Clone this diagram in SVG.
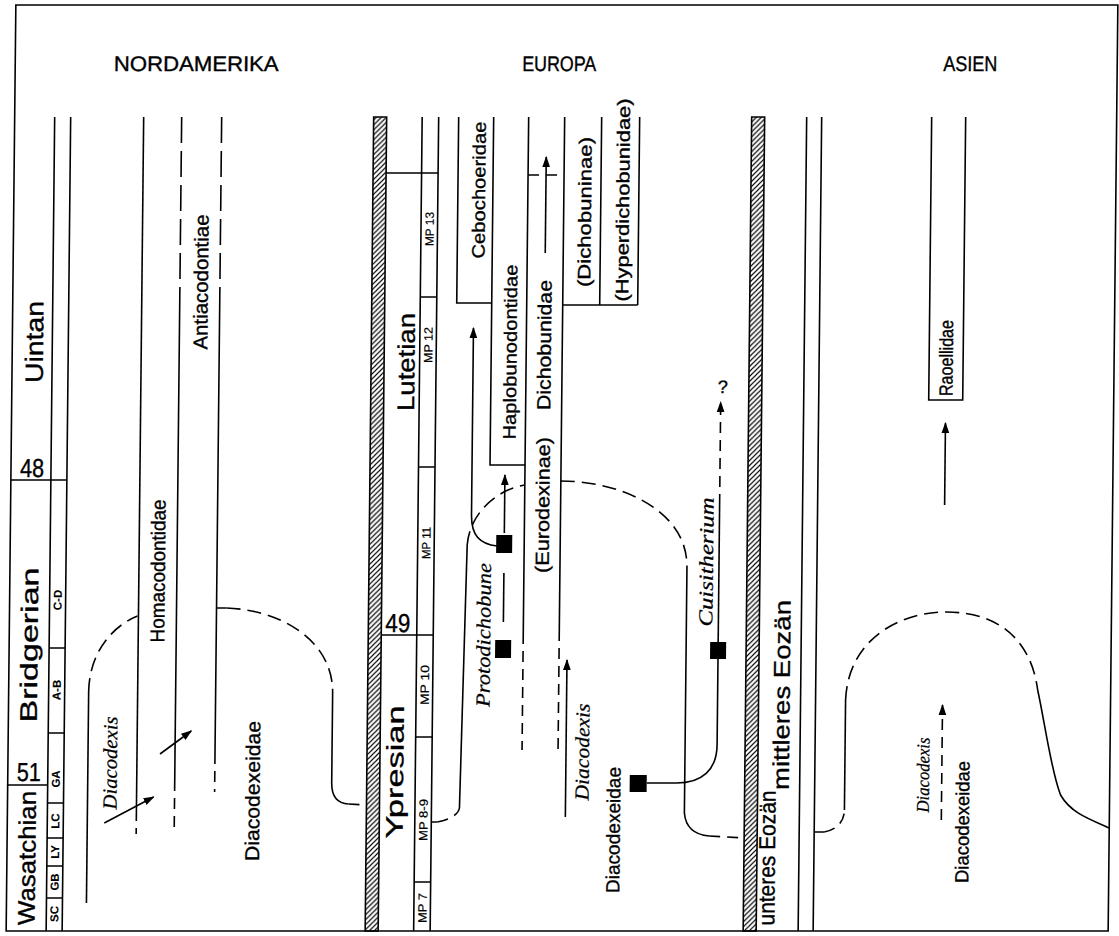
<svg xmlns="http://www.w3.org/2000/svg" width="1119" height="936" viewBox="0 0 1119 936">
<defs>
<pattern id="hatch" width="5" height="5" patternUnits="userSpaceOnUse"><path d="M-1,1 L1,-1 M0,5 L5,0 M4,6 L6,4" stroke="#000" stroke-width="1.2"/></pattern>
<marker id="arr" viewBox="0 0 10 10" refX="9" refY="5" markerWidth="11" markerHeight="11" markerUnits="userSpaceOnUse" orient="auto"><path d="M0,1.5 L10,5 L0,8.5 z" fill="#000"/></marker>
</defs>
<style>
.ln{fill:none;stroke:#000;stroke-width:1.6}
.d1{stroke-dasharray:14 7}
.d2{stroke-dasharray:26 8}
.d3{stroke-dasharray:11 7}
.sq{fill:#000}
.t{font-family:"Liberation Sans",Arial,sans-serif;fill:#000;stroke:#000;stroke-width:0.35}
.it{font-family:"Liberation Serif","Times New Roman",serif;font-style:italic;fill:#000;stroke:#000;stroke-width:0.25}
.bar{fill:url(#hatch);stroke:#000;stroke-width:1.6}
.ar{marker-end:url(#arr)}
</style>
<rect width="1119" height="936" fill="#fff"/>
<g transform="translate(4.9 0) skewX(-0.6)">
<rect id="frame" x="11" y="5" width="1102" height="926" class="ln"/>
<g id="titles" class="t" font-size="21" text-anchor="middle">
<text x="192" y="71" textLength="165" lengthAdjust="spacingAndGlyphs">NORDAMERIKA</text>
<text x="555" y="71" textLength="74" lengthAdjust="spacingAndGlyphs">EUROPA</text>
<text x="966" y="71" textLength="54" lengthAdjust="spacingAndGlyphs">ASIEN</text>
</g>

<g id="na-stages">
<path class="ln" d="M51,117 V931 M67,117 V931 M11,480 H67 M11,785 H51 M51,803 H67 M51,648 H67 M51,733 H67 M51,838 H67 M51,866 H67 M51,898 H67"/>
<text class="t" font-size="25" text-anchor="middle" transform="translate(33 342) rotate(-90)" dy="0.35em" textLength="82" lengthAdjust="spacingAndGlyphs">Uintan</text>
<text class="t" font-size="26" x="20" y="477" textLength="24" lengthAdjust="spacingAndGlyphs">48</text>
<text class="t" font-size="24" text-anchor="middle" transform="translate(31 645) rotate(-90)" dy="0.35em" textLength="155" lengthAdjust="spacingAndGlyphs">Bridgerian</text>
<text class="t" font-size="26" x="20" y="781" textLength="24" lengthAdjust="spacingAndGlyphs">51</text>
<text class="t" font-size="24" text-anchor="middle" transform="translate(31 858) rotate(-90)" dy="0.35em" textLength="134" lengthAdjust="spacingAndGlyphs">Wasatchian</text>
<g class="t" font-size="11.5" font-weight="bold" text-anchor="middle" style="stroke-width:0.1">
<text transform="translate(59 600) rotate(-90)" dy="0.35em">C-D</text>
<text transform="translate(59 690) rotate(-90)" dy="0.35em">A-B</text>
<text transform="translate(59 779) rotate(-90)" dy="0.35em">GA</text>
<text transform="translate(59 821) rotate(-90)" dy="0.35em">LC</text>
<text transform="translate(59 852) rotate(-90)" dy="0.35em">LY</text>
<text transform="translate(59 882) rotate(-90)" dy="0.35em">GB</text>
<text transform="translate(59 914) rotate(-90)" dy="0.35em">SC</text>
</g>
</g>

<g id="na-homacodontidae">
<path class="ln" d="M140,117 V810"/>
<path class="ln d3" d="M140,810 V834"/>
<text class="t" font-size="20" text-anchor="middle" transform="translate(159 571) rotate(-90)" dy="0.35em" textLength="143" lengthAdjust="spacingAndGlyphs">Homacodontidae</text>
</g>
<g id="na-antiacodontiae">
<path class="ln d2" d="M178,117 V300 M218,117 V300"/>
<path class="ln" d="M178,300 V780 M218,300 V753"/>
<path class="ln d3" d="M178,780 V832 M218,753 V792"/>
<text class="t" font-size="20" text-anchor="middle" transform="translate(199 282) rotate(-90)" dy="0.35em" textLength="135" lengthAdjust="spacingAndGlyphs">Antiacodontiae</text>
</g>
<g id="na-diacodexeidae">
<text class="t" font-size="20" text-anchor="middle" transform="translate(256 791) rotate(-90)" dy="0.35em" textLength="140" lengthAdjust="spacingAndGlyphs">Diacodexeidae</text>
<text class="it" font-size="20" text-anchor="middle" transform="translate(113 763) rotate(-90)" dy="0.35em" textLength="93" lengthAdjust="spacingAndGlyphs">Diacodexis</text>
</g>

<g id="eu-stages">
<rect class="bar" x="370" y="117" width="13" height="814"/>
<path class="ln" d="M418.5,117 V931 M435,117 V931 M383,173 H435 M418.5,297 H435 M418.5,467 H435 M383,635 H435 M418.5,737 H435 M418.5,882 H435"/>
<text class="t" font-size="24" text-anchor="middle" transform="translate(405 362) rotate(-90)" dy="0.35em" textLength="98" lengthAdjust="spacingAndGlyphs">Lutetian</text>
<text class="t" font-size="26" x="387" y="632" textLength="25" lengthAdjust="spacingAndGlyphs">49</text>
<text class="t" font-size="24" text-anchor="middle" transform="translate(398 772) rotate(-90)" dy="0.35em" textLength="133" lengthAdjust="spacingAndGlyphs">Ypresian</text>
<g class="t" font-size="12" text-anchor="middle" style="stroke-width:0.2">
<text transform="translate(427 229) rotate(-90)" dy="0.35em" textLength="34" lengthAdjust="spacingAndGlyphs">MP 13</text>
<text transform="translate(427 345) rotate(-90)" dy="0.35em" textLength="36" lengthAdjust="spacingAndGlyphs">MP 12</text>
<text transform="translate(427 543) rotate(-90)" dy="0.35em" textLength="32" lengthAdjust="spacingAndGlyphs">MP 11</text>
<text transform="translate(427 685) rotate(-90)" dy="0.35em" textLength="40" lengthAdjust="spacingAndGlyphs">MP 10</text>
<text transform="translate(427 820) rotate(-90)" dy="0.35em" textLength="42" lengthAdjust="spacingAndGlyphs">MP 8-9</text>
<text transform="translate(427 908) rotate(-90)" dy="0.35em" textLength="30" lengthAdjust="spacingAndGlyphs">MP 7</text>
</g>
</g>

<g id="eu-cebochoeridae">
<path class="ln" d="M455,117 V303 H490"/>
<text class="t" font-size="18" text-anchor="middle" transform="translate(476 190) rotate(-90)" dy="0.35em" textLength="137" lengthAdjust="spacingAndGlyphs">Cebochoeridae</text>
</g>
<g id="eu-haplobunodontidae">
<path class="ln" d="M490,117 V465 H525"/>
<text class="t" font-size="18" text-anchor="middle" transform="translate(509 352) rotate(-90)" dy="0.35em" textLength="175" lengthAdjust="spacingAndGlyphs">Haplobunodontidae</text>
</g>
<g id="eu-dichobunidae">
<path class="ln" d="M525,117 V633 M561,117 V630"/>
<path class="ln d3" d="M525,633 V750 M561,630 V750"/>
<path class="ln d3" d="M525,175 H561"/>
<text class="t" font-size="19" text-anchor="middle" transform="translate(543 345) rotate(-90)" dy="0.35em" textLength="130" lengthAdjust="spacingAndGlyphs">Dichobunidae</text>
<text class="t" font-size="19" text-anchor="middle" transform="translate(543 505) rotate(-90)" dy="0.35em" textLength="136" lengthAdjust="spacingAndGlyphs">(Eurodexinae)</text>
</g>
<g id="eu-dichobuninae">
<path class="ln" d="M598,117 V305 M636,117 V305 M561,305 H636"/>
<text class="t" font-size="18" text-anchor="middle" transform="translate(582 212) rotate(-90)" dy="0.35em" textLength="150" lengthAdjust="spacingAndGlyphs">(Dichobuninae)</text>
<text class="t" font-size="18" text-anchor="middle" transform="translate(620 200) rotate(-90)" dy="0.35em" textLength="203" lengthAdjust="spacingAndGlyphs">(Hyperdichobunidae)</text>
</g>
<g id="eu-protodichobune">
<rect class="sq" x="497" y="535" width="16" height="18"/>
<rect class="sq" x="497" y="640" width="16" height="18"/>
<text class="it" font-size="20" text-anchor="middle" transform="translate(485 635) rotate(-90)" dy="0.35em" textLength="144" lengthAdjust="spacingAndGlyphs">Protodichobune</text>
</g>
<g id="eu-diacodexeidae">
<text class="t" font-size="19" text-anchor="middle" transform="translate(617 830) rotate(-90)" dy="0.35em" textLength="126" lengthAdjust="spacingAndGlyphs">Diacodexeidae</text>
<text class="it" font-size="20" text-anchor="middle" transform="translate(585 752) rotate(-90)" dy="0.35em" textLength="97" lengthAdjust="spacingAndGlyphs">Diacodexis</text>
<rect class="sq" x="633" y="775" width="17" height="17"/>
</g>
<g id="eu-cuisitherium">
<rect class="sq" x="712" y="642" width="16" height="17"/>
<text class="it" font-size="20" text-anchor="middle" transform="translate(707 562) rotate(-90)" dy="0.35em" textLength="129" lengthAdjust="spacingAndGlyphs">Cuisitherium</text>
<text class="t" font-size="18" text-anchor="middle" x="722" y="393">?</text>
</g>

<g id="as-stages">
<rect class="bar" x="748" y="117" width="13" height="814"/>
<path class="ln" d="M803,117 V931 M818,117 V931"/>
<text class="t" font-size="23" text-anchor="middle" transform="translate(784 695) rotate(-90)" dy="0.35em" textLength="190" lengthAdjust="spacingAndGlyphs">mittleres Eozän</text>
<text class="t" font-size="23" text-anchor="middle" transform="translate(771 858) rotate(-90)" dy="0.35em" textLength="135" lengthAdjust="spacingAndGlyphs">unteres Eozän</text>
</g>
<g id="as-raoellidae">
<path class="ln" d="M928,117 V400 H962 V117"/>
<text class="t" font-size="19" text-anchor="middle" transform="translate(945 358) rotate(-90)" dy="0.35em" textLength="76" lengthAdjust="spacingAndGlyphs">Raoellidae</text>
</g>
<g id="as-diacodexeidae">
<text class="t" font-size="19" text-anchor="middle" transform="translate(966 822) rotate(-90)" dy="0.35em" textLength="122" lengthAdjust="spacingAndGlyphs">Diacodexeidae</text>
<text class="it" font-size="18" text-anchor="middle" transform="translate(926 775) rotate(-90)" dy="0.35em" textLength="75" lengthAdjust="spacingAndGlyphs">Diacodexis</text>
</g>

<g id="connectors">
<path class="ln" d="M91,692 V903"/>
<path class="ln d1" d="M91,692 C91,655 112,627 139,616"/>
<path class="ln" d="M218,608 H228"/>
<path class="ln d1" d="M228,608 C282,610 335,640 335,693"/>
<path class="ln" d="M335,693 V783 Q335,803 352,804"/>
<path class="ln d3" d="M352,804 L370,805"/>
<path class="ln ar" d="M108,823 L157,797"/>
<path class="ln ar" d="M163,754 L194,731"/>
<path class="ln" d="M435,822 H441"/>
<path class="ln d3" d="M441,822 C452,820 462,815 463,808"/>
<path class="ln" d="M463,808 L468,545"/>
<path class="ln d1" d="M468,545 C470,515 495,490 525,485"/>
<path class="ln d1" d="M561,481 C620,481 688,510 688,567"/>
<path class="ln" d="M688,567 V813 Q690,834 713,836"/>
<path class="ln d3" d="M713,836 L748,838"/>
<path class="ln ar" d="M498,546 C480,544 472,535 472,515 L472,328"/>
<path class="ln" d="M505,622 V573"/>
<path class="ln ar" d="M505,533 V475"/>
<path class="ln ar" d="M543,253 V157"/>
<path class="ln ar" d="M569,817 V660"/>
<path class="ln" d="M650,783 L680,783 C705,783 720,770 720,745 L720,659"/>
<path class="ln" d="M720,642 V505"/>
<path class="ln d3 ar" d="M720,505 V402"/>
<path class="ln" d="M818,832 H828"/>
<path class="ln d3" d="M828,832 C840,830 848,822 848,810"/>
<path class="ln" d="M848,810 V700"/>
<path class="ln d1" d="M848,700 C850,640 900,612 948,612 C1000,612 1033,640 1040,690"/>
<path class="ln" d="M1040,690 C1048,725 1054,770 1064,795 C1074,812 1090,818 1113,828"/>
<path class="ln ar" d="M945,505 V423"/>
<path class="ln d3 ar" d="M945,820 V705"/>
</g>
</g>
</svg>
